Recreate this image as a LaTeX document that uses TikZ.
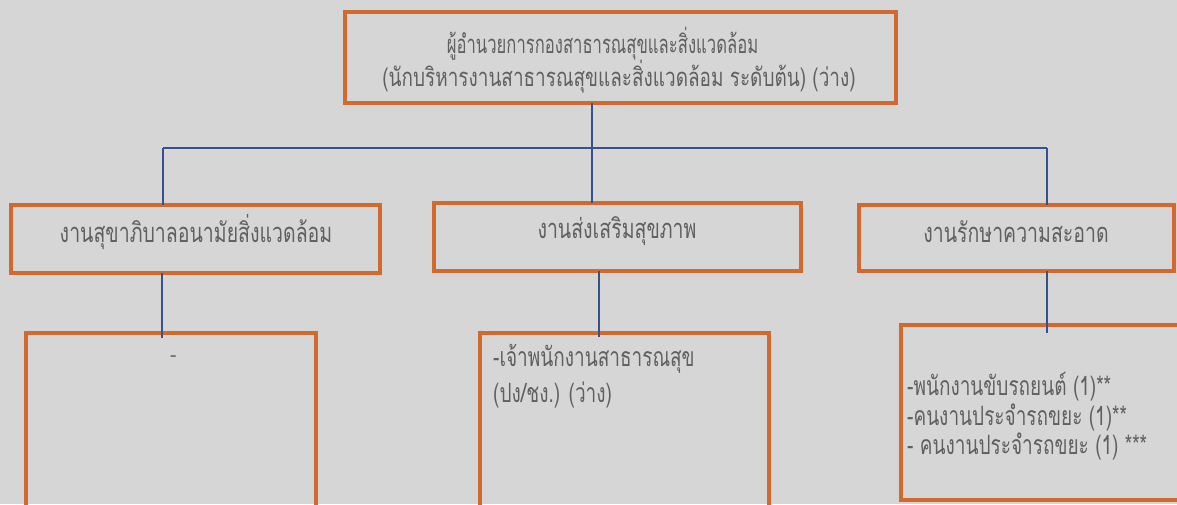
\documentclass[tikz,border=0pt]{standalone}
\usepackage{graphicx}
\usepackage{fontspec}
\newfontfamily\thai[Script=Thai]{Loma}
\newcommand{\vst}[1]{\scalebox{1}[1.4]{#1}}
\newcommand{\vsx}[2]{\scalebox{#1}[1.4]{#2}}
\definecolor{bg}{HTML}{D6D6D6}
\definecolor{boxor}{HTML}{D2692E}
\definecolor{conn}{HTML}{34528F}
\definecolor{txt}{HTML}{606060}
\begin{document}
\begin{tikzpicture}[x=1pt,y=-1pt,
  box/.style={draw=boxor,line width=4pt,rectangle,inner sep=0pt,outer sep=0pt},
  toplbl/.style={text=txt,inner sep=0pt,font=\thai\fontsize{18.3}{20}\selectfont},
  lbl/.style={text=txt,inner sep=0pt,font=\thai\fontsize{19.5}{22}\selectfont},
  item/.style={text=txt,inner sep=0pt,anchor=west,font=\thai\fontsize{19}{22}\selectfont},
  link/.style={draw=conn,line width=1.4pt}]
\fill[bg] (0,0) rectangle (1177,504);
\useasboundingbox (0,0) rectangle (1177,504);
% boxes
\node[box,minimum width=551pt,minimum height=91pt] (top) at (620.5,57.5) {};
\node[box,minimum width=369pt,minimum height=68pt] (lmid) at (195.5,239) {};
\node[box,minimum width=367pt,minimum height=68pt] (mmid) at (617.5,237) {};
\node[box,minimum width=315pt,minimum height=66pt] (rmid) at (1016.5,238) {};
\node[box,minimum width=290pt,minimum height=207pt] (lbot) at (171,436.5) {};
\node[box,minimum width=289pt,minimum height=207pt] (mbot) at (624.5,436.5) {};
\node[box,minimum width=289pt,minimum height=175pt] (rbot) at (1045.5,412.5) {};
% texts
\node[toplbl] (t1) at (602.5,44) {\vsx{0.91}{ผู้อำนวยการกองสาธารณสุขและสิ่งแวดล้อม}};
\node[toplbl] (t2) at (619,77) {\vsx{1.035}{(นักบริหารงานสาธารณสุขและสิ่งแวดล้อม ระดับต้น) (ว่าง)}};
\node[lbl] (tl) at (196,232) {\vst{งานสุขาภิบาลอนามัยสิ่งแวดล้อม}};
\node[lbl] (tm) at (617,231) {\vst{งานส่งเสริมสุขภาพ}};
\node[lbl] (tr) at (1016,232) {\vst{งานรักษาความสะอาด}};
\node[item] (dash) at (170,359) {-};
\node[item] (m1) at (493,359) {\vst{-เจ้าพนักงานสาธารณสุข}};
\node[item] (m2) at (493,395) {\vst{(ปง/ชง.) (ว่าง)}};
\node[item] (r1) at (907,387) {\vst{-พนักงานขับรถยนต์ (1)**}};
\node[item] (r2) at (907,417) {\vst{-คนงานประจำรถขยะ (1)**}};
\node[item] (r3) at (907,446) {\vst{- คนงานประจำรถขยะ (1) ***}};
% connectors
\coordinate (j0) at (592,148);
\coordinate (hl) at (163,148);
\coordinate (hr) at (1047,148);
\coordinate (e1) at (162,338);
\coordinate (e2) at (599,337);
\coordinate (e3) at (1047,333);
\draw[link] (top.south -| j0) -- (j0);
\draw[link] (hl) -- (hr);
\draw[link] (hl) -- (hl |- lmid.north);
\draw[link] (j0) -- (j0 |- mmid.north);
\draw[link] (hr) -- (hr |- rmid.north);
\draw[link] (e1 |- lmid.south) -- (e1);
\draw[link] (e2 |- mmid.south) -- (e2);
\draw[link] (e3 |- rmid.south) -- (e3);
\end{tikzpicture}
\end{document}
